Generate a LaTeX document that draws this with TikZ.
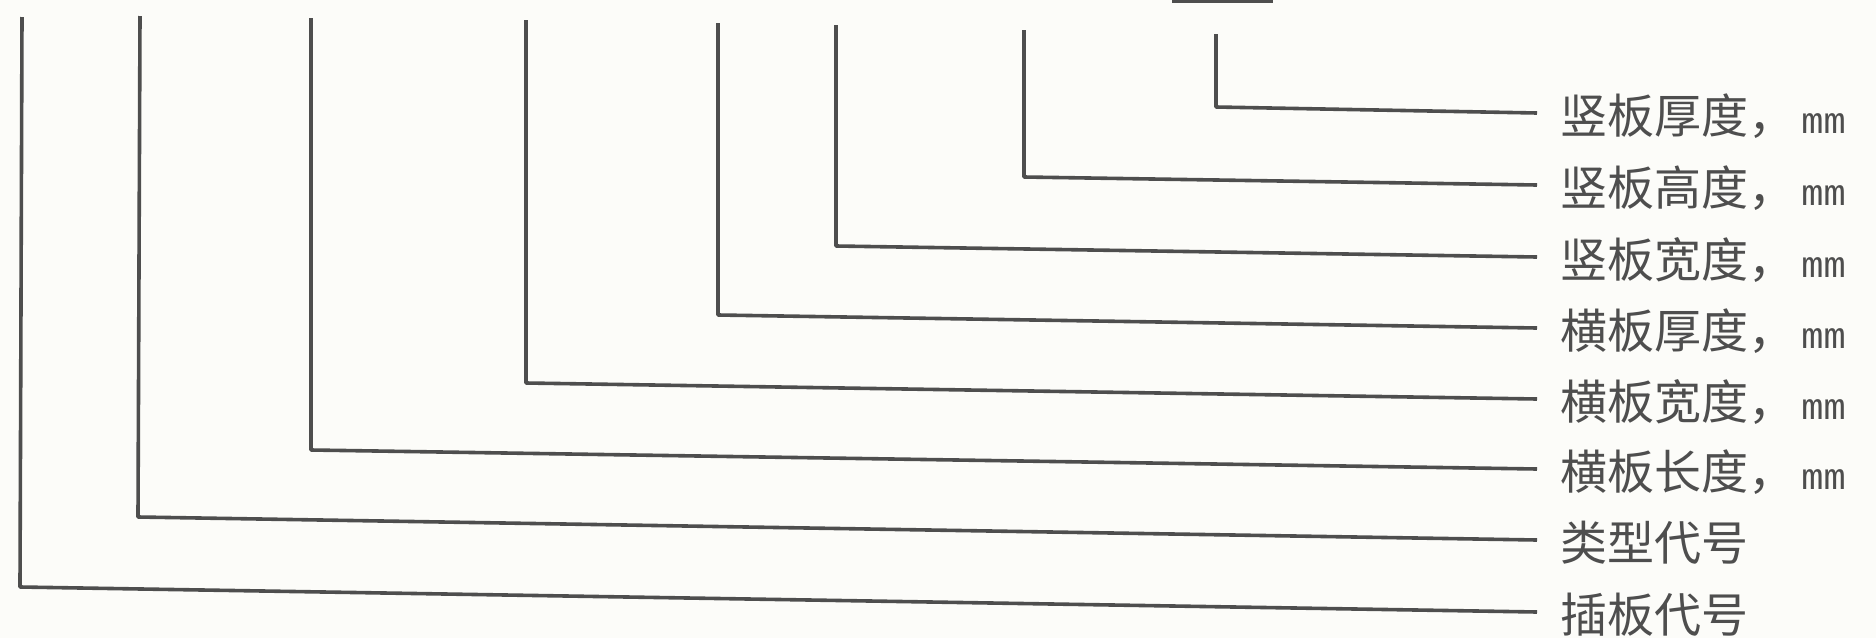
\documentclass[tikz,border=0pt]{standalone}
\usepackage{fontspec}
\usetikzlibrary{positioning}
\newfontfamily\cjk{Noto Sans CJK SC}
\newfontfamily\monofont{Liberation Mono}
\newcommand{\unitmm}{\hspace{3pt}{\monofont\fontsize{18.5pt}{20pt}\selectfont mm}}
\definecolor{inkgray}{HTML}{4E4E4E}
\definecolor{papercol}{HTML}{FCFCF9}
\begin{document}
\begin{tikzpicture}[x=0.5pt, y=-0.5pt, line join=round, line cap=butt,
  lead/.style={draw=inkgray, line width=1.8pt},
  lbl/.style={font=\cjk\fontsize{23.5pt}{28pt}\selectfont, text=inkgray, inner sep=0pt}]
\fill[papercol] (0,0) rectangle (1876,638);
\useasboundingbox (0,0) rectangle (1876,638);

% Mảnh gạch chân ở mép trên
\draw[lead] (1172,1.5) -- (1273,1.5);

% 竖板厚度
\coordinate (t1) at (1216,34);
\coordinate (c1) at (1216,107);
\coordinate (e1) at (1537,113);
\node[lbl, right=11.5pt of e1, yshift=-1.5pt] (l1) {竖板厚度，\unitmm};
\draw[lead] (t1) -- (c1) -- (e1);

% 竖板高度
\coordinate (t2) at (1024,30);
\coordinate (c2) at (1024,177);
\coordinate (e2) at (1537,185);
\node[lbl, right=11.5pt of e2, yshift=-1.5pt] (l2) {竖板高度，\unitmm};
\draw[lead] (t2) -- (c2) -- (e2);

% 竖板宽度
\coordinate (t3) at (836,25);
\coordinate (c3) at (836,246);
\coordinate (e3) at (1537,257);
\node[lbl, right=11.5pt of e3, yshift=-1.5pt] (l3) {竖板宽度，\unitmm};
\draw[lead] (t3) -- (c3) -- (e3);

% 横板厚度
\coordinate (t4) at (718,23);
\coordinate (c4) at (718,315);
\coordinate (e4) at (1537,328);
\node[lbl, right=11.5pt of e4, yshift=-1.5pt] (l4) {横板厚度，\unitmm};
\draw[lead] (t4) -- (c4) -- (e4);

% 横板宽度
\coordinate (t5) at (526,20);
\coordinate (c5) at (526,383);
\coordinate (e5) at (1537,399);
\node[lbl, right=11.5pt of e5, yshift=-1.5pt] (l5) {横板宽度，\unitmm};
\draw[lead] (t5) -- (c5) -- (e5);

% 横板长度
\coordinate (t6) at (311,18);
\coordinate (c6) at (311,450);
\coordinate (e6) at (1537,469);
\node[lbl, right=11.5pt of e6, yshift=-1.5pt] (l6) {横板长度，\unitmm};
\draw[lead] (t6) -- (c6) -- (e6);

% 类型代号
\coordinate (t7) at (140,16);
\coordinate (c7) at (138,517);
\coordinate (e7) at (1537,540);
\node[lbl, right=11.5pt of e7, yshift=-1.5pt] (l7) {类型代号};
\draw[lead] (t7) -- (c7) -- (e7);

% 插板代号
\coordinate (t8) at (22,17);
\coordinate (c8) at (20,587);
\coordinate (e8) at (1537,612);
\node[lbl, right=11.5pt of e8, yshift=-1.5pt] (l8) {插板代号};
\draw[lead] (t8) -- (c8) -- (e8);
\end{tikzpicture}
\end{document}
